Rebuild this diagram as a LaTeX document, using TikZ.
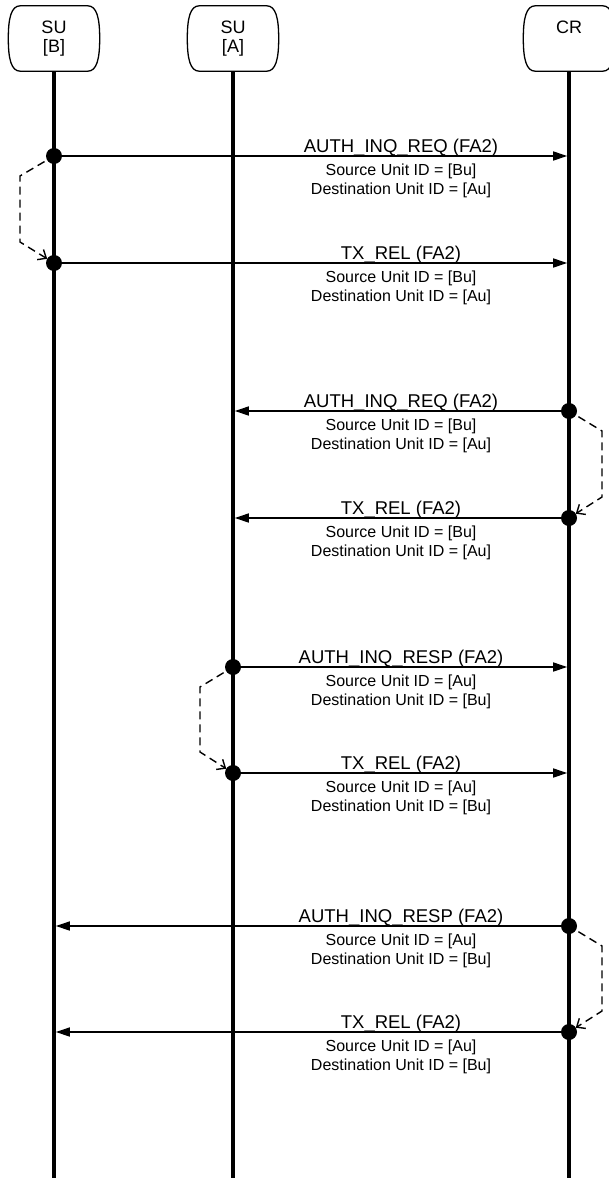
\documentclass[tikz,border=0pt]{standalone}
\usepackage{fontspec}
\setmainfont{Liberation Sans}
\usetikzlibrary{arrows.meta,calc}

\tikzset{
  unit/.style={minimum width=91pt,minimum height=65pt,inner sep=0pt,
    align=center,font=\fontsize{18}{19}\selectfont},
  unitline/.style={line width=1.3pt},
  lifeline/.style={line width=3.6pt},
  sendpt/.style={circle,fill,inner sep=0pt,minimum size=16pt},
  msg/.style={line width=1.5pt,-{Triangle[length=14pt,width=9pt]},shorten >=1.8pt},
  msgtitle/.style={anchor=base,inner sep=0pt,font=\fontsize{18.5}{22}\selectfont},
  msgfield/.style={anchor=base,inner sep=0pt,font=\fontsize{16}{19}\selectfont},
  turn/.style={line width=1.4pt,dash pattern=on 8pt off 5pt,
    -{Straight Barb[length=7pt,width=12pt]},shorten <=11pt,shorten >=8pt}
}

\begin{document}
\begin{tikzpicture}[x=1pt,y=-1pt]
  \useasboundingbox (0,0) rectangle (608,1178);

  \def\xB{54}   % SU [B]
  \def\xA{233}  % SU [A]
  \def\xC{569}  % CR
  \def\xlab{401} % centre of the message labels

  % -- UNITS & LIFELINES ---------------------------------------------
  \node[unit] (suB) at (\xB,38.5) {SU\\{}[B]};
  \node[unit] (suA) at (\xA,38.5) {SU\\{}[A]};
  \node[unit] (cr)  at (\xC,38.5) {CR\\{}\phantom{[B]}};

  % box outline with bulging sides
  \foreach \u in {suB,suA,cr}{
    \draw[unitline] ($(\u.north west)+(12,0)$) -- ($(\u.north east)+(-12,0)$)
      .. controls ($(\u.north east)+(-3,0)$) and ($(\u.north east)+(0,12)$) .. (\u.east)
      .. controls ($(\u.south east)+(0,-12)$) and ($(\u.south east)+(-3,0)$) .. ($(\u.south east)+(-12,0)$)
      -- ($(\u.south west)+(12,0)$)
      .. controls ($(\u.south west)+(3,0)$) and ($(\u.south west)+(0,-12)$) .. (\u.west)
      .. controls ($(\u.north west)+(0,12)$) and ($(\u.north west)+(3,0)$) .. cycle;
  }

  \coordinate (bottom) at (0,1178);
  \draw[lifeline] (suB.south) -- (suB.south|-bottom);
  \draw[lifeline] (suA.south) -- (suA.south|-bottom);
  \draw[lifeline] (cr.south)  -- (cr.south|-bottom);

  % -- MESSAGES ------------------------------------------------------
  \foreach \y/\fx/\tx/\title/\src/\dst [count=\i] in {
      156/\xB/\xC/AUTH\_INQ\_REQ/Bu/Au,
      263/\xB/\xC/TX\_REL/Bu/Au,
      411/\xC/\xA/AUTH\_INQ\_REQ/Bu/Au,
      518/\xC/\xA/TX\_REL/Bu/Au,
      667/\xA/\xC/AUTH\_INQ\_RESP/Au/Bu,
      773/\xA/\xC/TX\_REL/Au/Bu,
      926/\xC/\xB/AUTH\_INQ\_RESP/Au/Bu,
      1032/\xC/\xB/TX\_REL/Au/Bu}{
    \node[sendpt] (snd-\i) at (\fx,\y) {};
    \coordinate (rcv-\i) at (\tx,\y);
    \draw[msg] (snd-\i) -- (rcv-\i);
    \node[msgtitle] (ttl-\i) at (\xlab,\y-3.5) {\title\ (FA2)};
    \node[msgfield] (src-\i) at (\xlab,\y+19) {Source Unit ID = [\src]};
    \node[msgfield] (dst-\i) at (\xlab,\y+38) {Destination Unit ID = [\dst]};
  }

  % -- TURN-AROUNDS (dashed) -----------------------------------------
  \draw[turn] (snd-1.center) -- ++(-34,20) -- ($(snd-2.center)+(-34,-21)$) -- (snd-2.center);
  \draw[turn] (snd-3.center) -- ++(33,20) -- ($(snd-4.center)+(33,-21)$) -- (snd-4.center);
  \draw[turn] (snd-5.center) -- ++(-33,20) -- ($(snd-6.center)+(-33,-21)$) -- (snd-6.center);
  \draw[turn] (snd-7.center) -- ++(33,20) -- ($(snd-8.center)+(33,-21)$) -- (snd-8.center);

\end{tikzpicture}
\end{document}
